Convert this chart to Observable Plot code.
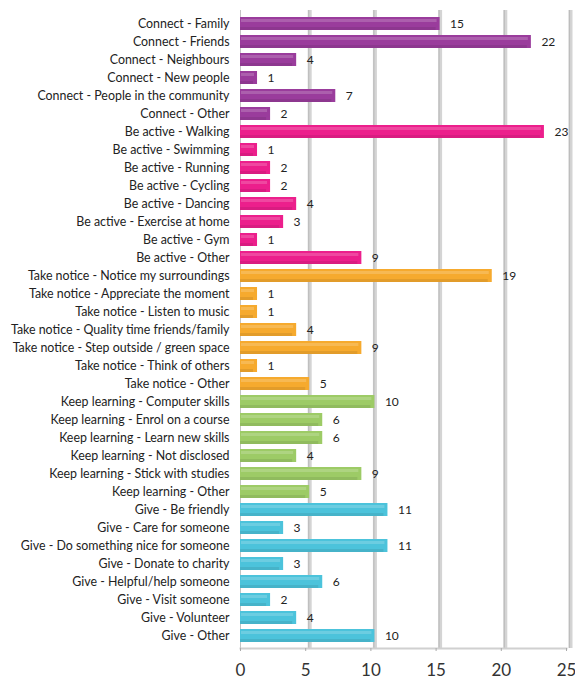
<!DOCTYPE html>
<html>
<head>
<meta charset="utf-8">
<script src="https://cdn.jsdelivr.net/npm/d3@7"></script>
<script src="https://cdn.jsdelivr.net/npm/@observablehq/plot@0.6"></script>
<style>
  html, body { margin: 0; padding: 0; background: #fff; }
  #chart svg { overflow: visible; }
</style>
</head>
<body>
<div id="chart"></div>
<script>
const categories = [
  "Connect - Family", "Connect - Friends", "Connect - Neighbours", "Connect - New people",
  "Connect - People in the community", "Connect - Other",
  "Be active - Walking", "Be active - Swimming", "Be active - Running", "Be active - Cycling",
  "Be active - Dancing", "Be active - Exercise at home", "Be active - Gym", "Be active - Other",
  "Take notice - Notice my surroundings", "Take notice - Appreciate the moment",
  "Take notice - Listen to music", "Take notice - Quality time friends/family",
  "Take notice - Step outside / green space", "Take notice - Think of others", "Take notice - Other",
  "Keep learning - Computer skills", "Keep learning - Enrol on a course", "Keep learning - Learn new skills",
  "Keep learning - Not disclosed", "Keep learning - Stick with studies", "Keep learning - Other",
  "Give - Be friendly", "Give - Care for someone", "Give - Do something nice for someone",
  "Give - Donate to charity", "Give - Helpful/help someone", "Give - Visit someone",
  "Give - Volunteer", "Give - Other"
];
const values = [
  15, 22, 4, 1, 7, 2,
  23, 1, 2, 2, 4, 3, 1, 9,
  19, 1, 1, 4, 9, 1, 5,
  10, 6, 6, 4, 9, 5,
  11, 3, 11, 3, 6, 2, 4, 10
];
const groupNames = ["Connect", "Be active", "Take notice", "Keep learning", "Give"];
const groupColors = ["#9a3c9c", "#ec1f8c", "#f6aa2e", "#9dcb66", "#4cc3db"];
const xTicks = [0, 5, 10, 15, 20, 25];
const gridTicks = [5, 10, 15, 20, 25];

const data = categories.map((c, i) => ({
  cat: c,
  value: values[i],
  group: c.split(" - ")[0]
}));

const chart = Plot.plot({
  width: 575,
  height: 686,
  marginLeft: 240,
  marginRight: 9,
  marginTop: 10,
  marginBottom: 38,
  style: { fontFamily: "Lato, 'Liberation Sans', sans-serif", color: "#333", background: "#fff" },
  x: { domain: [0, 25], ticks: xTicks, label: null },
  y: { domain: categories, padding: 0.28, label: null },
  color: { domain: groupNames, range: groupColors },
  marks: [
    Plot.ruleX(gridTicks, { stroke: "#d4d4d4", strokeWidth: 4, dx: 4 }),
    Plot.ruleX(gridTicks, { stroke: "#bdbdbd", strokeWidth: 1.2, dx: 3 }),
    Plot.frame({ anchor: "bottom", stroke: "#d0d0d0", strokeWidth: 2 }),
    Plot.ruleX([0], { stroke: "#c4c4c4", strokeWidth: 1 }),
    Plot.barX(data, { x: "value", y: "cat", fill: "group", insetRight: -4 }),
    Plot.barX(data, { x: "value", y: "cat", fill: "#000", fillOpacity: 0.08, insetTop: 10 }),
    Plot.barX(data, { x: "value", y: "cat", fill: "#fff", fillOpacity: 0.18, insetTop: 2, insetBottom: 8, insetLeft: 1, insetRight: -1 }),
    Plot.text(data, { x: "value", y: "cat", text: d => String(d.value), dx: 14, textAnchor: "start", fontSize: 12, fill: "#222" }),
    Plot.axisX(xTicks, { tickSize: 3, tickPadding: 12, fontSize: 17, stroke: "#aaa" }),
    Plot.axisY({ tickSize: 0, tickPadding: 11, fontSize: 12.4, fill: "#222" })
  ]
});
document.getElementById("chart").appendChild(chart);
</script>
</body>
</html>
